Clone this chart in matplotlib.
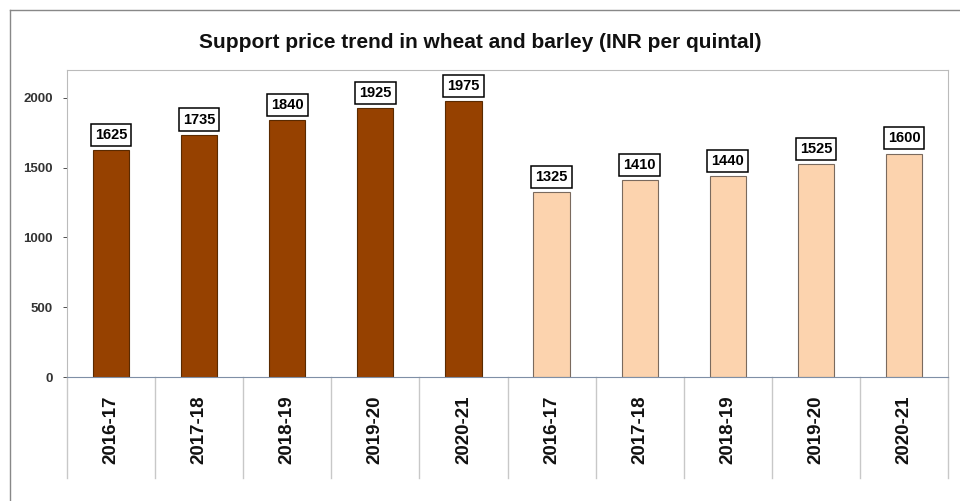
import matplotlib.pyplot as plt
from matplotlib.lines import Line2D
from matplotlib.transforms import blended_transform_factory

plt.rcParams['font.family'] = ['Liberation Sans', 'DejaVu Sans']

years = ['2016-17', '2017-18', '2018-19', '2019-20', '2020-21']
wheat = [1625, 1735, 1840, 1925, 1975]
barley = [1325, 1410, 1440, 1525, 1600]

labels = years + years
values = wheat + barley
colors = ['#964100'] * len(wheat) + ['#FCD3AE'] * len(barley)
edges = ['#5a2a00'] * len(wheat) + ['#7a6a5e'] * len(barley)

fig = plt.figure(figsize=(9.6, 5.01), dpi=100)
ax = fig.add_axes([67 / 960, 1 - 377 / 501, (948 - 67) / 960, (377 - 70) / 501])

x = list(range(len(values)))
ax.bar(x, values, width=0.41, color=colors, edgecolor=edges, linewidth=0.8, zorder=2)

for xi, v in zip(x, values):
    ax.annotate(str(v), (xi, v), xytext=(0, 6), textcoords='offset points',
                ha='center', va='bottom', fontsize=10.5, fontweight='bold',
                bbox=dict(boxstyle='square,pad=0.28', fc='white', ec='black', lw=1.1))

ax.set_xlim(-0.5, len(values) - 0.5)
ax.set_ylim(0, 2200)
ax.set_yticks([0, 500, 1000, 1500, 2000])
ax.tick_params(axis='y', labelsize=9.5, colors='#333333', length=3, width=0.6, pad=7)
for t in ax.get_yticklabels():
    t.set_fontweight('bold')
ax.set_xticks([])

for side in ['top', 'right', 'left']:
    ax.spines[side].set_color('#bbbbbb')
    ax.spines[side].set_linewidth(0.8)
ax.spines['bottom'].set_color('#7f8fa6')
ax.spines['bottom'].set_linewidth(0.8)

# category labels below the axis, split by vertical separators
trans = blended_transform_factory(ax.transData, ax.transAxes)
for b in [i - 0.5 for i in range(len(values) + 1)]:
    ax.add_line(Line2D([b, b], [0, -0.33], transform=trans, color='#c8c8c8',
                       lw=1.0, clip_on=False))
for xi, lab in zip(x, labels):
    ax.text(xi, -0.172, lab, transform=trans, rotation=90, ha='center', va='center',
            fontsize=13.5, fontweight='bold', color='#111111')

fig.text(0.5, 1 - 42 / 501, 'Support price trend in wheat and barley (INR per quintal)',
         ha='center', va='center', fontsize=15, fontweight='bold', color='#111111')

# outer chart frame
fig.add_artist(Line2D([10 / 960, 10 / 960], [0, 1 - 10 / 501], transform=fig.transFigure,
                      color='#888888', lw=1.0))
fig.add_artist(Line2D([10 / 960, 1], [1 - 10 / 501, 1 - 10 / 501], transform=fig.transFigure,
                      color='#888888', lw=1.0))

fig.savefig('out.png', dpi=100)
